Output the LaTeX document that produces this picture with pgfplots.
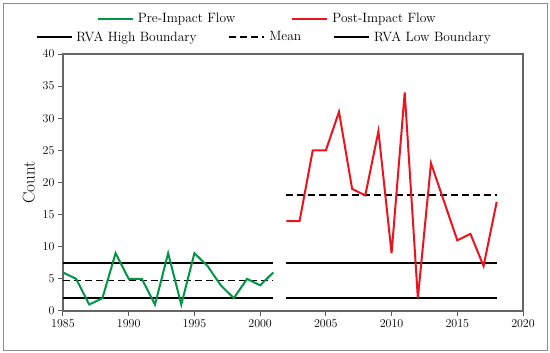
\documentclass[border=0pt]{standalone}
\usepackage{pgfplots}
\pgfplotsset{compat=1.18}
\definecolor{preg}{RGB}{0,150,70}
\definecolor{postr}{RGB}{235,20,30}
\begin{document}
\begin{tikzpicture}
\pgfplotsset{
  every axis/.append style={font=\fontsize{12.5}{14}\selectfont},
  legend image code/.code={\draw[#1] (0pt,0pt) -- (35pt,0pt);},
}
\begin{axis}[
  scale only axis, width=460pt, height=257pt,
  xmin=1985, xmax=2020, ymin=0, ymax=40,
  xtick={1985,1990,...,2020}, ytick={0,5,...,40},
  /pgf/number format/1000 sep={},
  tick align=outside, tick pos=left,
  major tick length=5pt,
  every tick/.style={black!65, line width=1pt},
  axis line style={black!60, line width=1.3pt},
  ylabel={Count},
  ylabel style={font=\fontsize{17}{19}\selectfont, yshift=1pt},
  legend style={draw=none, fill=none, inner sep=0pt, at={(-0.060,1.066)}, anchor=west,
    font=\fontsize{13.5}{15}\selectfont,
    /tikz/every odd column/.append style={column sep=2pt},
    /tikz/every even column/.append style={column sep=30pt}},
  legend columns=3,
]
% RVA boundaries and means
\addplot[black, line width=1.8pt, forget plot] coordinates {(1985,7.5) (2001,7.5)};
\addplot[black, line width=1.8pt, forget plot] coordinates {(1985,2) (2001,2)};
\addplot[black, line width=1.8pt, dash pattern=on 7pt off 4pt, forget plot] coordinates {(1985,4.76) (2001,4.76)};
\addplot[black, line width=1.8pt, forget plot] coordinates {(2002,7.5) (2018,7.5)};
\addplot[black, line width=1.8pt, forget plot] coordinates {(2002,2) (2018,2)};
\addplot[black, line width=1.8pt, dash pattern=on 7pt off 4pt, forget plot] coordinates {(2002,18) (2018,18)};
% Pre-impact flow
\addplot[preg, line width=2pt, forget plot] coordinates {
(1985,6) (1986,5) (1987,1) (1988,2) (1989,9) (1990,5) (1991,5) (1992,1) (1993,9)
(1994,1) (1995,9) (1996,7) (1997,4) (1998,2) (1999,5) (2000,4) (2001,6)};
% Post-impact flow
\addplot[postr, line width=2pt, forget plot] coordinates {
(2002,14) (2003,14) (2004,25) (2005,25) (2006,31) (2007,19) (2008,18) (2009,28) (2010,9)
(2011,34) (2012,2) (2013,23) (2014,17) (2015,11) (2016,12) (2017,7) (2018,17)};
\addlegendimage{black, line width=1.8pt}
\addlegendentry{RV\kern-1pt A High Boundary}
\addlegendimage{black, line width=1.8pt, dash pattern=on 7pt off 4pt}
\addlegendentry{Mean}
\addlegendimage{black, line width=1.8pt}
\addlegendentry{RV\kern-1pt A Low Boundary}
\end{axis}
\begin{axis}[
  scale only axis, width=460pt, height=257pt,
  xmin=0, xmax=1, ymin=0, ymax=1, hide axis,
  legend style={draw=none, fill=none, inner sep=0pt, at={(0.073,1.136)}, anchor=west,
    font=\fontsize{13.5}{15}\selectfont,
    /tikz/every odd column/.append style={column sep=2pt},
    /tikz/every even column/.append style={column sep=54pt}},
  legend columns=2,
]
\addlegendimage{preg, line width=2pt}
\addlegendentry{Pre-Impact Flow}
\addlegendimage{postr, line width=2pt}
\addlegendentry{Post-Impact Flow}
\end{axis}
\draw[black!45, line width=0.8pt] (-60pt,-39pt) rectangle (484pt,308pt);
\path (-63pt,-42pt) rectangle (487pt,311pt);
\end{tikzpicture}
\end{document}
